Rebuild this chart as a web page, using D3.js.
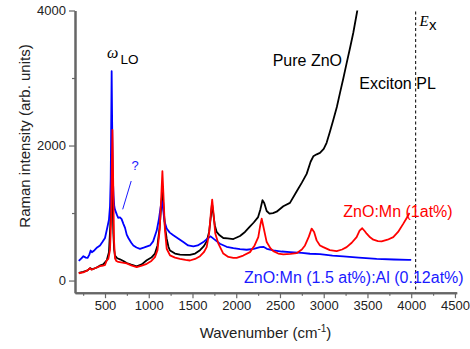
<!DOCTYPE html>
<html><head><meta charset="utf-8">
<script src="https://cdn.jsdelivr.net/npm/d3@7"></script>
<style>body{margin:0;background:#fff}svg{display:block;font-family:Arial,"Liberation Sans",sans-serif}</style>
</head><body><svg id="c" width="470" height="349"></svg>
<script>
// ---- data ----
const pureZnO = [[200,115],[250,130],[300,150],[330,185],[350,165],[400,190],[440,220],[480,240],[520,300],[545,420],[560,800],[570,1300],[578,1600],[586,1300],[595,700],[605,450],[614,370],[640,330],[671,315],[710,290],[748,260],[800,235],[862,210],[920,240],[977,300],[1030,340],[1071,400],[1100,520],[1125,800],[1145,1150],[1156,1330],[1168,1100],[1185,800],[1205,620],[1225,500],[1243,445],[1300,400],[1357,385],[1420,380],[1471,380],[1530,400],[1586,450],[1630,510],[1662,580],[1690,720],[1710,950],[1723,1140],[1737,1000],[1755,820],[1776,720],[1810,670],[1852,630],[1900,625],[1967,615],[2043,660],[2100,720],[2150,790],[2200,860],[2250,940],[2275,1050],[2300,1190],[2320,1150],[2348,1030],[2380,990],[2420,1000],[2462,1020],[2538,1100],[2614,1150],[2690,1320],[2750,1450],[2805,1580],[2850,1760],[2881,1840],[2920,1870],[2957,1890],[3000,1950],[3033,2040],[3070,2200],[3110,2380],[3150,2570],[3186,2780],[3225,3000],[3262,3220],[3300,3440],[3338,3670],[3384,4000],[3400,4150]];
const znoMnAl = [[200,290],[230,330],[253,360],[280,340],[300,335],[320,380],[336,445],[350,420],[380,450],[410,490],[443,520],[470,570],[500,630],[527,790],[545,900],[557,1100],[565,1500],[570,2200],[576,3100],[582,2300],[590,1500],[598,1250],[606,1100],[614,1050],[634,980],[650,930],[671,935],[690,910],[710,840],[729,780],[748,680],[767,630],[800,560],[824,520],[860,490],[900,470],[950,490],[1014,520],[1050,580],[1091,740],[1115,900],[1135,1080],[1148,1180],[1162,1080],[1180,880],[1205,770],[1240,710],[1281,670],[1340,620],[1395,570],[1450,520],[1510,505],[1560,520],[1624,570],[1670,620],[1707,655],[1750,610],[1814,545],[1890,500],[1967,480],[2043,465],[2119,456],[2200,470],[2271,495],[2310,500],[2350,470],[2424,446],[2520,430],[2614,421],[2750,410],[2843,397],[2957,390],[3100,370],[3224,357],[3400,340],[3605,322],[3800,312],[3967,307],[4000,305]];
const znoMn = [[200,108],[250,120],[300,150],[329,183],[345,160],[400,190],[443,213],[481,223],[500,230],[519,297],[538,320],[557,450],[569,850],[578,1700],[585,2230],[592,1600],[603,600],[614,330],[630,290],[652,275],[700,265],[748,255],[800,225],[862,198],[920,220],[977,248],[1030,290],[1071,347],[1100,450],[1125,750],[1145,1300],[1156,1620],[1167,1300],[1185,750],[1205,471],[1243,372],[1300,340],[1357,322],[1420,305],[1471,297],[1530,320],[1586,360],[1630,420],[1662,495],[1690,700],[1710,1000],[1725,1200],[1740,1000],[1760,700],[1796,546],[1852,400],[1910,350],[1967,337],[2005,337],[2080,370],[2157,421],[2210,520],[2252,644],[2275,820],[2291,917],[2310,800],[2348,570],[2390,480],[2424,436],[2480,400],[2538,387],[2620,395],[2690,406],[2750,460],[2786,520],[2830,650],[2862,770],[2890,720],[2919,595],[2957,520],[2995,495],[3070,450],[3148,436],[3210,460],[3262,495],[3320,560],[3376,644],[3410,740],[3440,775],[3470,730],[3491,694],[3530,640],[3567,605],[3620,585],[3662,580],[3730,605],[3795,644],[3850,720],[3910,843],[3950,930],[3980,1000]];
const xMajorTicks = [500,1000,1500,2000,2500,3000,3500,4000,4500];
const xMinorTicks = [250,750,1250,1750,2250,2750,3250,3750,4250];
const yMajorTicks = [0,2000,4000];
const yMinorTicks = [1000,3000];
const excitonLine = 4051;

// ---- drawing ----
const svg = d3.select("#c");
const x = d3.scaleLinear().domain([157,4520]).range([75,456.7]);
const y = d3.scaleLinear().domain([-180,4000]).range([292.7,10.5]);
const axisColor = "#666";

svg.append("clipPath").attr("id","clip").append("rect")
  .attr("x",75).attr("y",10.5).attr("width",381.7).attr("height",282.2);

// exciton dashed line
svg.append("line").attr("x1",x(excitonLine)).attr("x2",x(excitonLine))
  .attr("y1",y(4000)+1).attr("y2",y(-180))
  .attr("stroke","#000").attr("stroke-width",1).attr("stroke-dasharray","3,2.5");

const line = d3.line().x(d=>x(d[0])).y(d=>y(d[1]));
const g = svg.append("g").attr("clip-path","url(#clip)");
g.append("path").datum(pureZnO).attr("d",line).attr("fill","none").attr("stroke","#000").attr("stroke-width",1.8).attr("stroke-linejoin","round");
g.append("path").datum(znoMnAl).attr("d",line).attr("fill","none").attr("stroke","#0000ff").attr("stroke-width",1.8).attr("stroke-linejoin","round");
g.append("path").datum(znoMn).attr("d",line).attr("fill","none").attr("stroke","#ff0000").attr("stroke-width",1.8).attr("stroke-linejoin","round");

// axes
const fmt = d3.format("d");
const xa = svg.append("g").attr("transform",`translate(0,${y(-180)})`)
  .call(d3.axisBottom(x).tickValues(xMajorTicks).tickFormat(fmt).tickSize(5.5).tickPadding(3).tickSizeOuter(0));
const xm = svg.append("g").attr("transform",`translate(0,${y(-180)})`)
  .call(d3.axisBottom(x).tickValues(xMinorTicks).tickSize(3).tickFormat("").tickSizeOuter(0));
const ya = svg.append("g").attr("transform",`translate(${x(157)},0)`)
  .call(d3.axisLeft(y).tickValues(yMajorTicks).tickFormat(fmt).tickSize(6).tickPadding(3).tickSizeOuter(0));
const ym = svg.append("g").attr("transform",`translate(${x(157)},0)`)
  .call(d3.axisLeft(y).tickValues(yMinorTicks).tickSize(3).tickFormat("").tickSizeOuter(0));
[xa,xm,ya,ym].forEach(a=>{
  a.selectAll("path.domain").attr("stroke",axisColor).attr("stroke-width",2);
  a.selectAll(".tick line").attr("stroke",axisColor).attr("stroke-width",1.2);
  a.selectAll(".tick text").attr("font-size",13).attr("fill","#222").attr("font-family","Arial, 'Liberation Sans', sans-serif");
});

// axis titles
const xt = svg.append("text").attr("x",265.5).attr("y",338).attr("text-anchor","middle")
  .attr("font-size",15).attr("fill","#222");
xt.append("tspan").text("Wavenumber (cm");
xt.append("tspan").attr("font-size",10).attr("dy",-6).text("-1");
xt.append("tspan").attr("dy",6).text(")");
svg.append("text").attr("transform","translate(30,136) rotate(-90)").attr("text-anchor","middle")
  .attr("font-size",15).attr("fill","#222").text("Raman intensity (arb. units)");

// annotations
svg.append("text").attr("x",107).attr("y",58).attr("font-family","'Liberation Serif','DejaVu Serif',serif")
  .attr("font-style","italic").attr("font-size",16).attr("fill","#000").text("ω");
svg.append("text").attr("x",120.5).attr("y",63.5).attr("font-size",13.5).attr("fill","#000").text("LO");
svg.append("text").attr("x",272.7).attr("y",66).attr("font-size",16).attr("fill","#000").text("Pure ZnO");
svg.append("text").attr("x",359.3).attr("y",89).attr("font-size",16).attr("fill","#000").text("Exciton PL");
svg.append("text").attr("x",419.5).attr("y",25.5).attr("font-family","'Liberation Serif','DejaVu Serif',serif")
  .attr("font-style","italic").attr("font-size",15).attr("fill","#000").text("E");
svg.append("text").attr("x",429).attr("y",30).attr("font-size",15).attr("fill","#000").text("x");
svg.append("text").attr("x",343.3).attr("y",217).attr("font-size",16).attr("fill","#ff0000").text("ZnO:Mn (1at%)");
svg.append("text").attr("x",244).attr("y",282.5).attr("font-size",16).attr("fill","#1a1aff").text("ZnO:Mn (1.5 at%):Al (0.12at%)");
svg.append("text").attr("x",131.5).attr("y",170).attr("font-size",13).attr("fill","#1a1aff").text("?");
svg.append("line").attr("x1",122.7).attr("y1",209.3).attr("x2",131.2).attr("y2",181)
  .attr("stroke","#1a1aff").attr("stroke-width",1);
</script></body></html>
